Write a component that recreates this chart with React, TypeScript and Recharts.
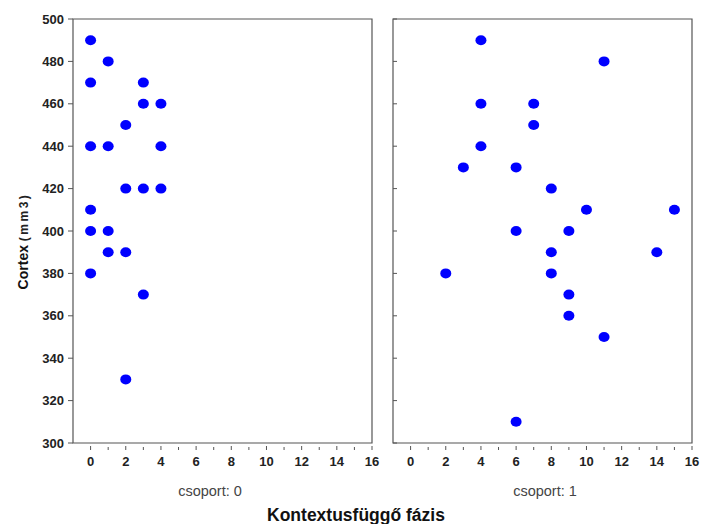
import React from 'react'
import {
  ScatterChart,
  Scatter,
  XAxis,
  YAxis,
  ReferenceArea,
} from 'recharts'

// csoport: 0
const group0X = [0, 1, 0, 3, 3, 4, 2, 0, 1, 4, 2, 3, 4, 0, 0, 1, 1, 2, 0, 3, 2]
const group0Y = [490, 480, 470, 470, 460, 460, 450, 440, 440, 440, 420, 420, 420, 410, 400, 400, 390, 390, 380, 370, 330]

// csoport: 1
const group1X = [4, 11, 4, 7, 7, 4, 3, 6, 8, 10, 15, 6, 9, 8, 14, 2, 8, 9, 9, 11, 6]
const group1Y = [490, 480, 460, 460, 450, 440, 430, 430, 420, 410, 410, 400, 400, 390, 390, 380, 380, 370, 360, 350, 310]

const xTicks = [0, 1, 2, 3, 4, 5, 6, 7, 8, 9, 10, 11, 12, 13, 14, 15, 16]
const yTicks = [300, 320, 340, 360, 380, 400, 420, 440, 460, 480, 500]

const panelLabels = ['csoport: 0', 'csoport: 1']

const FONT = '"Liberation Sans", Arial, sans-serif'

const toPoints = (xs: number[], ys: number[]) => xs.map((x, i) => ({ x, y: ys[i] }))

const Dot = (props: any) => (
  <ellipse cx={props.cx} cy={props.cy} rx={5.5} ry={5} fill="#0000ff" />
)

const XTick = (props: any) => {
  const { x, y, payload } = props
  const major = payload.value % 2 === 0
  return (
    <g>
      <line x1={x} x2={x} y1={y - 1} y2={y - (major ? 5 : 4)} stroke="#555" />
      {major && (
        <text x={x} y={y + 15} textAnchor="middle" fontFamily={FONT} fontSize={13} fontWeight="bold" fill="#222">
          {payload.value}
        </text>
      )}
    </g>
  )
}

const YTick = (props: any) => {
  const { x, y, payload, showLabel } = props
  return (
    <g>
      {showLabel ? (
        <>
          <line x1={x - 5} x2={x} y1={y} y2={y} stroke="#555" />
          <text x={x - 9} y={y + 4.5} textAnchor="end" fontFamily={FONT} fontSize={13} fontWeight="bold" fill="#222">
            {payload.value}
          </text>
        </>
      ) : (
        <line x1={x} x2={x + 4} y1={y} y2={y} stroke="#555" />
      )}
    </g>
  )
}

interface PanelProps {
  data: { x: number; y: number }[]
  left: number
  width: number
  yAxisWidth: number
  showYLabels: boolean
}

const Panel: React.FC<PanelProps> = ({ data, left, width, yAxisWidth, showYLabels }) => (
  <div style={{ position: 'absolute', left, top: 0 }}>
    <ScatterChart
      width={width}
      height={470}
      margin={{ top: 19, right: width - yAxisWidth - 299, bottom: 2, left: 0 }}
    >
      <XAxis
        type="number"
        dataKey="x"
        domain={[-1, 16]}
        ticks={xTicks}
        interval={0}
        axisLine={false}
        tickLine={false}
        tick={<XTick />}
        height={25}
        allowDataOverflow
      />
      <YAxis
        type="number"
        dataKey="y"
        domain={[300, 500]}
        ticks={yTicks}
        interval={0}
        axisLine={false}
        tickLine={false}
        tick={(p: any) => <YTick {...p} x={yAxisWidth} showLabel={showYLabels} />}
        width={yAxisWidth}
        allowDataOverflow
      />
      <ReferenceArea x1={-1} x2={16} y1={300} y2={500} fill="none" stroke="#555" strokeWidth={1.2} />
      <Scatter data={data} shape={<Dot />} isAnimationActive={false} />
    </ScatterChart>
  </div>
)

export default function App() {
  return (
    <div style={{ position: 'absolute', left: 0, top: 0, width: 703, height: 524, background: '#fff' }}>
      <Panel data={toPoints(group0X, group0Y)} left={0} width={380} yAxisWidth={73} showYLabels />
      <Panel data={toPoints(group1X, group1Y)} left={380} width={323} yAxisWidth={13} showYLabels={false} />
      <svg width={703} height={524} style={{ position: 'absolute', left: 0, top: 0, pointerEvents: 'none' }}>
        <text x={210} y={496} textAnchor="middle" fontFamily={FONT} fontSize={14.5} fill="#444">
          {panelLabels[0]}
        </text>
        <text x={545} y={496} textAnchor="middle" fontFamily={FONT} fontSize={14.5} fill="#444">
          {panelLabels[1]}
        </text>
        <text x={356} y={521} textAnchor="middle" fontFamily={FONT} fontSize={17.5} fontWeight="bold" fill="#111">
          Kontextusfüggő fázis
        </text>
        <text
          transform="translate(28,241) rotate(-90)"
          textAnchor="middle"
          fontFamily={FONT}
          fontWeight="bold"
          fill="#111"
        >
          <tspan fontSize={14}>Cortex </tspan>
          <tspan fontSize={12} letterSpacing={2.5} fill="#222">(mm3)</tspan>
        </text>
      </svg>
    </div>
  )
}
